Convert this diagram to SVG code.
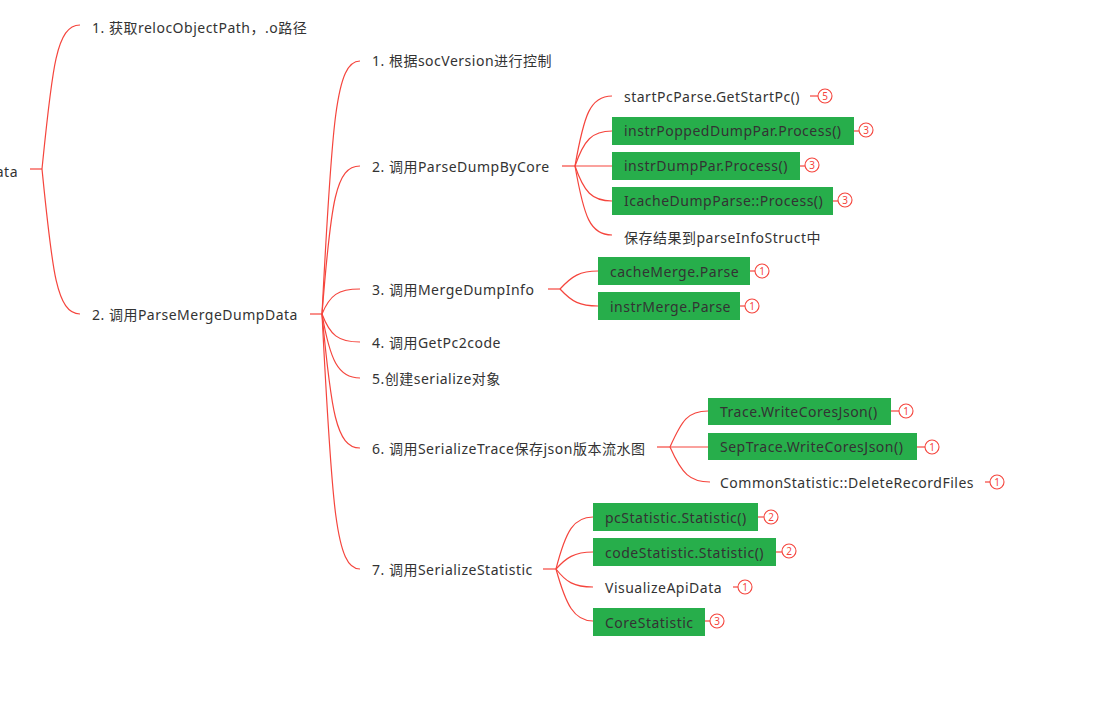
<svg xmlns="http://www.w3.org/2000/svg" width="1105" height="705" viewBox="0 0 1105 705">
<style>
text{font-family:"Noto Sans","Noto Sans CJK SC",sans-serif;font-size:14px;fill:#333333;letter-spacing:0.5px}
.c{fill:none;stroke:#f5453d;stroke-width:1.2}
.box{fill:#27ae4b}
.bc{fill:#ffffff;stroke:#f5453d;stroke-width:1.1}
.bn{font-size:10px;fill:#f5453d;text-anchor:middle;letter-spacing:0}
</style>
<rect width="1105" height="705" fill="#ffffff"/>
<g id="connectors">
<path class="c" d="M30,169 H42"/>
<path class="c" d="M42,169 C52,70 56,25 80,25"/>
<path class="c" d="M42,169 C52,268 56,314 80,314"/>
<path class="c" d="M310,314 H322"/>
<path class="c" d="M322,314 C332,120 336,61 360,61"/>
<path class="c" d="M322,314 C331,200 336,166 360,166"/>
<path class="c" d="M322,314 C330,295 338,289 360,289"/>
<path class="c" d="M322,314 C330,335 338,342 360,342"/>
<path class="c" d="M322,314 C330,360 338,378 360,378"/>
<path class="c" d="M322,314 C331,410 336,448 360,448"/>
<path class="c" d="M322,314 C332,510 336,569 360,569"/>
<path class="c" d="M562,166 H575"/>
<path class="c" d="M575,166 C584,115 590,96 612,96"/>
<path class="c" d="M575,166 C584,140 592,131 612,131"/>
<path class="c" d="M575,166 H612"/>
<path class="c" d="M575,166 C584,192 592,201 612,201"/>
<path class="c" d="M575,166 C584,217 590,235 612,235"/>
<path class="c" d="M548,289 H560"/>
<path class="c" d="M560,289 C572,276 580,271 598,271"/>
<path class="c" d="M560,289 C572,302 580,306 598,306"/>
<path class="c" d="M657,447 H670"/>
<path class="c" d="M670,447 C682,420 688,411 708,411"/>
<path class="c" d="M670,447 H708"/>
<path class="c" d="M670,447 C682,474 690,482 710,482"/>
<path class="c" d="M543,569 H556"/>
<path class="c" d="M556,569 C566,530 574,517 593,517"/>
<path class="c" d="M556,569 C566,558 574,552 593,552"/>
<path class="c" d="M556,569 C566,582 574,587 593,587"/>
<path class="c" d="M556,569 C566,605 574,621 593,621"/>
</g>
<g id="root"><text x="18" y="177" text-anchor="end">ata</text></g>
<g id="n1"><text x="92" y="33">1. 获取relocObjectPath，.o路径</text></g>
<g id="n2"><text x="92" y="320">2. 调用ParseMergeDumpData</text></g>
<g id="n2-1"><text x="372" y="66">1. 根据socVersion进行控制</text></g>
<g id="n2-2"><text x="372" y="172">2. 调用ParseDumpByCore</text></g>
<g id="n2-3"><text x="372" y="295">3. 调用MergeDumpInfo</text></g>
<g id="n2-4"><text x="372" y="348">4. 调用GetPc2code</text></g>
<g id="n2-5"><text x="372" y="384">5.创建serialize对象</text></g>
<g id="n2-6"><text x="372" y="454">6. 调用SerializeTrace保存json版本流水图</text></g>
<g id="n2-7"><text x="372" y="575">7. 调用SerializeStatistic</text></g>
<g id="startPc"><text x="624" y="102">startPcParse.GetStartPc()</text>
<path class="c" d="M810,96 H818"/><circle class="bc" cx="825" cy="96" r="7"/><text class="bn" x="825" y="99.5">5</text></g>
<g id="popped"><rect class="box" x="612" y="117" width="242" height="28"/><text x="624" y="136">instrPoppedDumpPar.Process()</text>
<path class="c" d="M854,131 H859"/><circle class="bc" cx="866" cy="130" r="7"/><text class="bn" x="866" y="133.5">3</text></g>
<g id="instrDump"><rect class="box" x="612" y="152" width="188" height="28"/><text x="624" y="171">instrDumpPar.Process()</text>
<path class="c" d="M800,166 H805"/><circle class="bc" cx="812" cy="165" r="7"/><text class="bn" x="812" y="168.5">3</text></g>
<g id="icache"><rect class="box" x="612" y="187" width="221" height="28"/><text x="624" y="206">IcacheDumpParse::Process()</text>
<path class="c" d="M833,201 H838"/><circle class="bc" cx="845" cy="200" r="7"/><text class="bn" x="845" y="203.5">3</text></g>
<g id="saveRes"><text x="624" y="243">保存结果到parseInfoStruct中</text></g>
<g id="cacheMerge"><rect class="box" x="598" y="257" width="152" height="28"/><text x="610" y="277">cacheMerge.Parse</text>
<path class="c" d="M750,271 H755"/><circle class="bc" cx="762" cy="271" r="7"/><text class="bn" x="762" y="274.5">1</text></g>
<g id="instrMerge"><rect class="box" x="598" y="292" width="142" height="28"/><text x="610" y="312">instrMerge.Parse</text>
<path class="c" d="M740,306 H745"/><circle class="bc" cx="752" cy="306" r="7"/><text class="bn" x="752" y="309.5">1</text></g>
<g id="trace"><rect class="box" x="708" y="398" width="183" height="27"/><text x="720" y="417">Trace.WriteCoresJson()</text>
<path class="c" d="M891,411 H899"/><circle class="bc" cx="906" cy="411" r="7"/><text class="bn" x="906" y="414.5">1</text></g>
<g id="sepTrace"><rect class="box" x="708" y="433" width="209" height="27"/><text x="720" y="452">SepTrace.WriteCoresJson()</text>
<path class="c" d="M917,447 H925"/><circle class="bc" cx="932" cy="447" r="7"/><text class="bn" x="932" y="450.5">1</text></g>
<g id="deleteRec"><text x="720" y="488">CommonStatistic::DeleteRecordFiles</text>
<path class="c" d="M985,482 H990"/><circle class="bc" cx="997" cy="482" r="7"/><text class="bn" x="997" y="485.5">1</text></g>
<g id="pcStat"><rect class="box" x="593" y="503" width="165" height="28"/><text x="605" y="523">pcStatistic.Statistic()</text>
<path class="c" d="M758,517 H764"/><circle class="bc" cx="771" cy="517" r="7"/><text class="bn" x="771" y="520.5">2</text></g>
<g id="codeStat"><rect class="box" x="593" y="538" width="183" height="28"/><text x="605" y="558">codeStatistic.Statistic()</text>
<path class="c" d="M776,552 H782"/><circle class="bc" cx="789" cy="551" r="7"/><text class="bn" x="789" y="554.5">2</text></g>
<g id="visApi"><text x="605" y="593">VisualizeApiData</text>
<path class="c" d="M733,587 H738"/><circle class="bc" cx="745" cy="587" r="7"/><text class="bn" x="745" y="590.5">1</text></g>
<g id="coreStat"><rect class="box" x="593" y="608" width="112" height="28"/><text x="605" y="628">CoreStatistic</text>
<path class="c" d="M705,621 H710"/><circle class="bc" cx="717" cy="621" r="7"/><text class="bn" x="717" y="624.5">3</text></g>
</svg>
